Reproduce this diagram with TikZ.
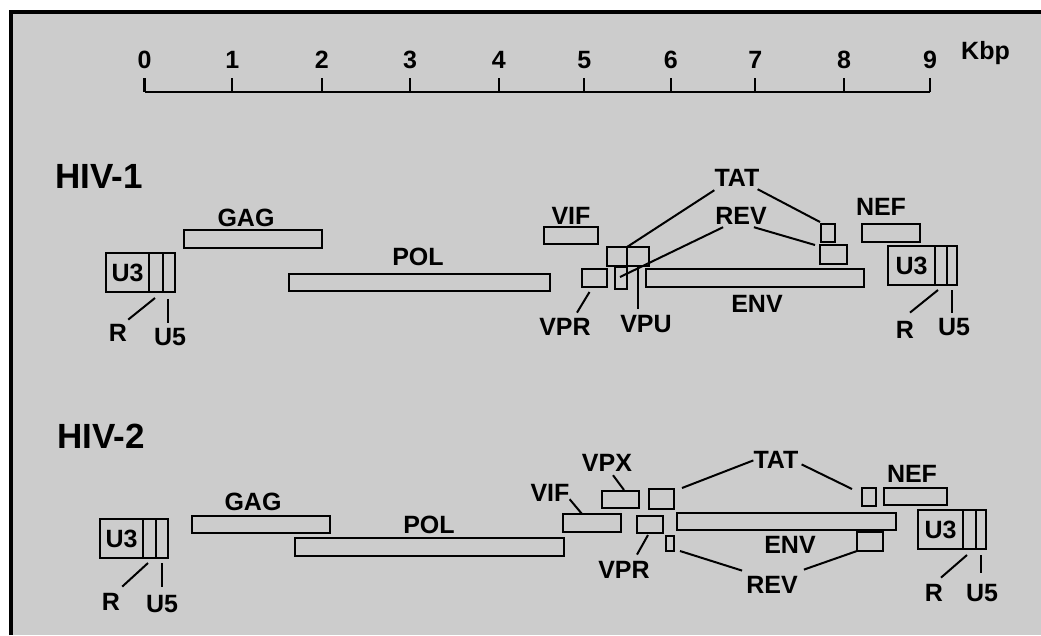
\documentclass[tikz,border=0pt]{standalone}
\usepackage{fontspec}
\setmainfont{Liberation Sans}
\usetikzlibrary{calc}
\definecolor{bggray}{gray}{0.80}
\tikzset{
  lab/.style={font=\fontsize{25}{29}\selectfont\bfseries, inner sep=0pt, anchor=base},
  ttl/.style={font=\fontsize{35}{40}\selectfont\bfseries, inner sep=0pt, anchor=base west},
  gbox/.style={draw, line width=2.2pt, inner sep=0pt, outer sep=0pt, font=\fontsize{25}{29}\selectfont\bfseries},
  conn/.style={line width=2pt},
}
\begin{document}
\begin{tikzpicture}[x=1pt,y=-1pt]
\useasboundingbox (0,0) rectangle (1041,635);
\fill[white] (0,0) rectangle (1041,635);
\fill[bggray] (11,12) rectangle (1041,635);
\draw[line width=4pt] (11,635) -- (11,12) -- (1041,12);

% scale
\draw[line width=2.2pt] (144.5,92) -- (930,92);
\foreach \x/\n in {144.5/0,232.3/1,321.7/2,410/3,498.7/4,584.3/5,670.7/6,755.3/7,844/8,930/9}{
  \draw[line width=2.2pt] (\x,78) -- (\x,92);
  \node[lab] (s\n) at (\x,68) {\n};
}
\node[lab, anchor=base west] (kbp) at (961,59) {Kbp};

% ================= HIV-1 =================
\node[ttl] (hiv1) at (55,188) {HIV-1};
% left LTR
\node[gbox, minimum width=43pt, minimum height=39pt] (l1u3) at (127.5,272.5) {U3};
\node[gbox, minimum width=14pt, minimum height=39pt] (l1r) at (156,272.5) {};
\node[gbox, minimum width=12pt, minimum height=39pt] (l1u5) at (169,272.5) {};
\node[lab] (l1R) at (118,341) {R};
\node[lab] (l1U5) at (170,345) {U5};
\draw[conn] ($(l1r.south)+(-1,6)$) -- ($(l1R.north east)+(1,-4)$);
\draw[conn] ($(l1u5.south)+(-1,7)$) -- ($(l1u5.south |- l1U5.north)+(-1,-5)$);
% genes
\node[gbox, minimum width=138pt, minimum height=18pt] (g1gag) at (253,239) {};
\node[gbox, minimum width=261pt, minimum height=17pt] (g1pol) at (419.5,282.5) {};
\node[gbox, minimum width=54pt, minimum height=17pt] (g1vif) at (571,235.5) {};
\node[gbox, minimum width=20pt, minimum height=19pt] (g1tat) at (617,256.5) {};
\node[gbox, minimum width=22pt, minimum height=19pt] (g1sq) at (638,256.5) {};
\node[gbox, minimum width=12pt, minimum height=22pt] (g1sm) at (621,278) {};
\node[gbox, minimum width=25pt, minimum height=18pt] (g1vpr) at (594.5,278) {};
\node[gbox, minimum width=218pt, minimum height=18pt] (g1env) at (755,278) {};
\node[gbox, minimum width=14pt, minimum height=18pt] (g1tat2) at (828,233) {};
\node[gbox, minimum width=27pt, minimum height=19pt] (g1rev2) at (833.5,254.5) {};
\node[gbox, minimum width=58pt, minimum height=18pt] (g1nef) at (891,233) {};
% right LTR
\node[gbox, minimum width=47pt, minimum height=39pt] (r1u3) at (911.5,265.5) {U3};
\node[gbox, minimum width=12pt, minimum height=39pt] (r1r) at (941,265.5) {};
\node[gbox, minimum width=10pt, minimum height=39pt] (r1u5) at (952,265.5) {};
\node[lab] (rl1R) at (905,338) {R};
\node[lab] (rl1U5) at (954,335) {U5};
\draw[conn] ($(r1r.south)+(-3,5)$) -- ($(rl1R.north)+(5,-8)$);
\draw[conn] ($(r1u5.south)+(0,5)$) -- ($(r1u5.south |- rl1U5.north)+(0,-5)$);
% labels
\node[lab] (t1gag) at (246,226) {GAG};
\node[lab] (t1pol) at (418,265) {POL};
\node[lab] (t1vif) at (571,224) {VIF};
\node[lab] (t1tat) at (737,186) {TAT};
\node[lab] (t1rev) at (741,224) {REV};
\node[lab] (t1nef) at (881,215) {NEF};
\node[lab] (t1vpr) at (565,335) {VPR};
\node[lab] (t1vpu) at (646,332) {VPU};
\node[lab] (t1env) at (757,312) {ENV};
% connectors
\draw[conn] ($(t1tat.south west)+(0,4)$) -- (g1tat.north east);
\draw[conn] ($(t1tat.south east)+(-2,3)$) -- ($(g1tat2.north west)+(-1,-2)$);
\draw[conn] ($(t1rev.south west)+(8,3)$) -- ($(g1sm.center)+(-1,-1)$);
\draw[conn] ($(t1rev.south east)+(-13,3)$) -- ($(g1rev2.north west)+(-5,0)$);
\draw[conn] (g1sq.south) -- ($(g1sq.south |- t1vpu.north)+(0,-6)$);
\draw[conn] ($(g1vpr.south)+(-5,5)$) -- ($(t1vpr.north)+(12,-5)$);

% ================= HIV-2 =================
\node[ttl] (hiv2) at (57,448) {HIV-2};
% left LTR
\node[gbox, minimum width=43pt, minimum height=39pt] (l2u3) at (121.5,538.5) {U3};
\node[gbox, minimum width=13pt, minimum height=39pt] (l2r) at (149.5,538.5) {};
\node[gbox, minimum width=12pt, minimum height=39pt] (l2u5) at (162,538.5) {};
\node[lab] (l2R) at (111,610) {R};
\node[lab] (l2U5) at (162,612) {U5};
\draw[conn] ($(l2r.south)+(-1.5,5)$) -- ($(l2R.north east)+(2,-6)$);
\draw[conn] ($(l2u5.south)+(0,5)$) -- ($(l2u5.south |- l2U5.north)+(0,-8)$);
% genes
\node[gbox, minimum width=138pt, minimum height=17pt] (g2gag) at (261,524.5) {};
\node[gbox, minimum width=269pt, minimum height=18pt] (g2pol) at (429.5,547) {};
\node[gbox, minimum width=58pt, minimum height=18pt] (g2vif) at (592,523) {};
\node[gbox, minimum width=37pt, minimum height=17pt] (g2vpx) at (620.5,499.5) {};
\node[gbox, minimum width=25pt, minimum height=20pt] (g2tat) at (661.5,499) {};
\node[gbox, minimum width=26pt, minimum height=17pt] (g2vpr) at (650,524.5) {};
\node[gbox, minimum width=8pt, minimum height=15pt] (g2rev) at (670,543.5) {};
\node[gbox, minimum width=219pt, minimum height=17pt] (g2env) at (786.5,521.5) {};
\node[gbox, minimum width=14pt, minimum height=18pt] (g2tat2) at (869,497) {};
\node[gbox, minimum width=63pt, minimum height=17pt] (g2nef) at (915.5,496.5) {};
\node[gbox, minimum width=26pt, minimum height=19pt] (g2rev2) at (870,541.5) {};
% right LTR
\node[gbox, minimum width=45pt, minimum height=39pt] (r2u3) at (940.5,529.5) {U3};
\node[gbox, minimum width=13pt, minimum height=39pt] (r2r) at (969.5,529.5) {};
\node[gbox, minimum width=10pt, minimum height=39pt] (r2u5) at (981,529.5) {};
\node[lab] (rl2R) at (934,601) {R};
\node[lab] (rl2U5) at (982,601) {U5};
\draw[conn] ($(r2r.south)+(-2.5,6)$) -- ($(rl2R.north)+(7,-6)$);
\draw[conn] ($(r2u5.south)+(0,6)$) -- ($(r2u5.south |- rl2U5.north)+(0,-11)$);
% labels
\node[lab] (t2gag) at (253,510) {GAG};
\node[lab] (t2pol) at (429,533) {POL};
\node[lab] (t2vif) at (550,501) {VIF};
\node[lab] (t2vpx) at (607,471) {VPX};
\node[lab] (t2tat) at (776,468) {TAT};
\node[lab] (t2nef) at (912,482) {NEF};
\node[lab] (t2vpr) at (624,578) {VPR};
\node[lab] (t2env) at (790,553) {ENV};
\node[lab] (t2rev) at (772,593) {REV};
% connectors
\draw[conn] ($(t2vif.south east)+(0,-2)$) -- ($(g2vif.north west)+(19,0)$);
\draw[conn] ($(t2vpx.south)+(6,4)$) -- ($(g2vpx.north)+(3.5,-1)$);
\draw[conn] ($(g2tat.north east)+(8,-1)$) -- ($(t2tat.west)+(0,1)$);
\draw[conn] ($(t2tat.east)+(3,5)$) -- ($(g2tat2.north west)+(-10,1)$);
\draw[conn] ($(g2vpr.south)+(-2,2)$) -- ($(t2vpr.north)+(13,-6)$);
\draw[conn] ($(g2rev.south east)+(6,0)$) -- ($(t2rev.north west)+(-4,-5)$);
\draw[conn] ($(t2rev.north east)+(6,-6)$) -- (g2rev2.south west);
\end{tikzpicture}
\end{document}
